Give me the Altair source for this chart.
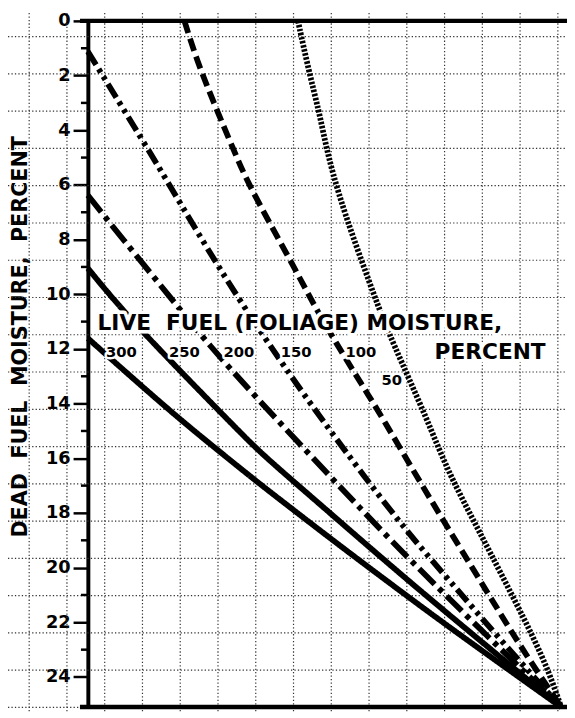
import altair as alt
import pandas as pd
import numpy as np

# ---- data ----
# x: relative position across the chart (0 = dead-fuel axis, 100 = convergence point)
# y: dead fuel moisture, percent
live_levels = ["300", "250", "200", "150", "100", "50"]

x_300 = [0, 8.5, 19.0, 27.3, 35.6, 43.3, 52.3, 64.2, 77.3, 100]
y_300 = [11.61, 12.92, 14.51, 15.68, 16.84, 17.87, 19.07, 20.62, 22.30, 25.1]

x_250 = [0, 6.5, 15.4, 32.1, 37.3, 50.2, 69.6, 100]
y_250 = [9.05, 10.42, 12.08, 15.04, 15.93, 17.85, 20.78, 25.1]

x_200 = [0, 7.1, 17.5, 25.6, 35.6, 46.7, 57.1, 67.5, 83.5, 100]
y_200 = [6.38, 7.92, 10.13, 11.86, 13.78, 15.83, 17.75, 19.62, 22.36, 25.1]

x_150 = [0, 9.2, 16.3, 23.1, 32.1, 43.3, 50.2, 57.9, 67.5, 75.8, 87.7, 100]
y_150 = [1.12, 3.70, 5.72, 7.72, 10.25, 13.10, 14.75, 16.55, 18.70, 20.35, 22.75, 25.1]

x_100 = [20.4, 23.1, 26.7, 30.8, 33.5, 38.3, 43.3, 47.5, 52.3, 57.9, 62.7, 69.0, 75.2, 82.9, 91.3, 100]
y_100 = [0, 1.48, 3.03, 4.72, 5.81, 7.36, 8.92, 10.30, 11.75, 13.30, 14.65, 16.52, 18.30, 20.47, 22.86, 25.1]

x_50 = [44.4, 46.7, 48.8, 50.2, 51.7, 54.4, 57.9, 61.3, 64.2, 71.7, 75.8, 81.5, 85.0, 89.8, 94.0, 97.5, 100]
y_50 = [0, 1.84, 3.28, 4.47, 5.55, 7.10, 8.80, 10.42, 11.68, 14.57, 16.37, 18.28, 19.44, 21.06, 22.50, 23.84, 25.1]

y_tick_values = [0, 2, 4, 6, 8, 10, 12, 14, 16, 18, 20, 22, 24]
y_minor_values = [1, 3, 5, 7, 9, 11, 13, 15, 17, 19, 21, 23]

num_labels = ["300", "250", "200", "150", "100", "50"]
num_x = [7.1, 20.4, 31.9, 44.0, 57.7, 64.2]
num_y = [12.12, 12.12, 12.12, 12.12, 12.12, 13.13]

NB = "\u00a0"
title_texts = ["LIVE" + NB + NB + "FUEL (FOLIAGE) MOISTURE,", "PERCENT"]
title_x = [44.8, 85.0]
title_y = [11.07, 12.12]
y_title = "DEAD" + NB + NB + "FUEL" + NB + NB + "MOISTURE," + NB + NB + "PERCENT"

# ---- tables ----
series = {"300": (x_300, y_300), "250": (x_250, y_250), "200": (x_200, y_200),
          "150": (x_150, y_150), "100": (x_100, y_100), "50": (x_50, y_50)}
rows = []
for k, (xs_, ys_) in series.items():
    for a, b in zip(xs_, ys_):
        rows.append({"live": k, "x": a, "y": b})
lines_df = pd.DataFrame(rows)

# graph-paper background (decoration)
vgrid_df = pd.DataFrame({"gx": -12.4 + 7.98 * np.arange(15)})
hgrid_df = pd.DataFrame({"gy": 0.577 + 1.363 * np.arange(19)})

W, H = 486, 696
FONT = "DejaVu Sans"
xs = alt.Scale(domain=[0, 101.25], nice=False, zero=False)
ys = alt.Scale(domain=[0, 25.1], reverse=True, nice=False, zero=False)

yax = alt.Axis(values=y_tick_values, title=y_title,
               grid=False, domain=True, domainColor="black", domainWidth=4,
               ticks=True, tickColor="black", tickSize=15, tickWidth=2.5,
               labelFont=FONT, labelFontWeight="bold", labelFontSize=18,
               labelColor="black", labelPadding=3, labelFlush=False, labelOverlap=False,
               titleFont=FONT, titleFontWeight="bold", titleFontSize=21,
               titleColor="black", titleX=-68, titleY=320, titleAngle=270,
               titleAlign="center", titleBaseline="middle")

def X(f):
    return alt.X(f, scale=xs, axis=None)

def Y(f):
    return alt.Y(f, scale=ys, axis=yax)

vgrid = alt.Chart(vgrid_df).mark_rule(color="#333", strokeWidth=1.2, strokeDash=[1.3, 2.2]).encode(
    x=X("gx:Q"), y=alt.value(-8), y2=alt.value(H + 6))
hgrid = alt.Chart(hgrid_df).mark_rule(color="#333", strokeWidth=1.2, strokeDash=[1.3, 2.2]).encode(
    y=Y("gy:Q"), x=alt.value(-81), x2=alt.value(W))

dash_range = [[1, 0], [1, 0], [22, 6, 5, 6], [16, 5, 4, 5, 4, 5], [13, 6], [2.6, 1.6]]
lines = alt.Chart(lines_df).mark_line(color="black", strokeWidth=5.8, strokeCap="butt",
                                      interpolate="basis").encode(
    x=X("x:Q"), y=Y("y:Q"),
    strokeDash=alt.StrokeDash("live:N", scale=alt.Scale(domain=live_levels, range=dash_range), legend=None),
    detail="live:N")

num_df = pd.DataFrame({"t": num_labels, "x": num_x, "y": num_y})
title_df = pd.DataFrame({"t": title_texts, "x": title_x, "y": title_y})

num_halo = alt.Chart(num_df).mark_text(font=FONT, fontWeight="bold", fontSize=15, color="white",
                                       stroke="white", strokeWidth=5, strokeJoin="round").encode(
    x=X("x:Q"), y=Y("y:Q"), text="t:N")
num_txt = alt.Chart(num_df).mark_text(font=FONT, fontWeight="bold", fontSize=15, color="black").encode(
    x=X("x:Q"), y=Y("y:Q"), text="t:N")
title_halo = alt.Chart(title_df).mark_text(font=FONT, fontWeight="bold", fontSize=22, color="white",
                                           stroke="white", strokeWidth=7, strokeJoin="round").encode(
    x=X("x:Q"), y=Y("y:Q"), text="t:N")
title_txt = alt.Chart(title_df).mark_text(font=FONT, fontWeight="bold", fontSize=22, color="black").encode(
    x=X("x:Q"), y=Y("y:Q"), text="t:N")

border_df = pd.DataFrame({"b": [0, 25.1]})
borders = alt.Chart(border_df).mark_rule(color="black", strokeWidth=4.5).encode(
    y=Y("b:Q"), x=alt.value(-8), x2=alt.value(W))

minor_df = pd.DataFrame({"m": y_minor_values})
minor = alt.Chart(minor_df).mark_rule(color="black", strokeWidth=2.5).encode(
    y=Y("m:Q"), x=alt.value(-7), x2=alt.value(0))

chart = alt.layer(vgrid, hgrid, lines, num_halo, title_halo, num_txt, title_txt, borders, minor).properties(
    width=W, height=H,
    padding={"left": 81, "top": 8, "right": 0, "bottom": 6},
    autosize=alt.AutoSizeParams(type="none"),
    background="white",
).configure_view(stroke=None)

chart.save("out.html", embed_options={"renderer": "svg", "actions": False})
